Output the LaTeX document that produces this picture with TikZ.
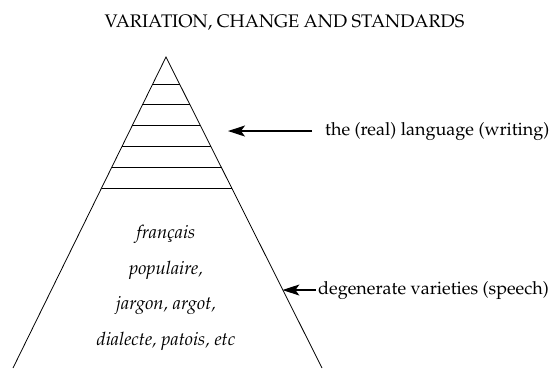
\documentclass[tikz,border=0pt]{standalone}
\usepackage[T1]{fontenc}
\usepackage{mathpazo}
\usepackage{tikz}
\usetikzlibrary{arrows.meta, positioning, calc}

\begin{document}
\begin{tikzpicture}[
    x=1pt, y=-1pt,
    side/.style={line width=0.8pt},
    rung/.style={line width=0.8pt},
    note/.style={font=\fontsize{18}{20}\selectfont, inner sep=2pt},
    heading/.style={font=\fontsize{18.2}{21}\selectfont, inner sep=0pt},
    variety/.style={font=\itshape\fontsize{18.4}{35.5}\selectfont, align=center, inner sep=0pt},
    pointer/.style={-{Stealth[length=17pt, width=11pt, inset=4pt]}, line width=1.3pt},
]
\useasboundingbox (0,0) rectangle (554,369);

\node[heading, anchor=base] (title) at (284.5,28) {VARIATION, CHANGE AND STANDARDS};

% the pyramid
\coordinate (apex) at (166,57);
\coordinate (bl)   at (13,368);
\coordinate (br)   at (322,368);
\draw[side] (bl) -- (apex) -- (br);

\foreach \t in {0.087, 0.154, 0.221, 0.288, 0.355, 0.421}
    \draw[rung] ($(apex)!\t!(bl)$) -- ($(apex)!\t!(br)$);

\node[variety, anchor=base] (low) at (166,345)
    {fran\c{c}ais\\populaire,\\jargon, argot,\\dialecte, patois, etc};

% labels on the right
\coordinate (tipA) at (228,130);
\coordinate (tipB) at ($(apex)!0.746!(br)$);

\node[note, anchor=base west] (lang) at (323,135) {the (real) language (writing)};
\node[note, anchor=base west] (deg)  at (316,294) {degenerate varieties (speech)};

\draw[pointer, shorten <=11pt] (lang.west) -- (lang.west -| tipA);
\draw[pointer] (deg.west) -- (deg.west -| tipB);

\end{tikzpicture}
\end{document}
